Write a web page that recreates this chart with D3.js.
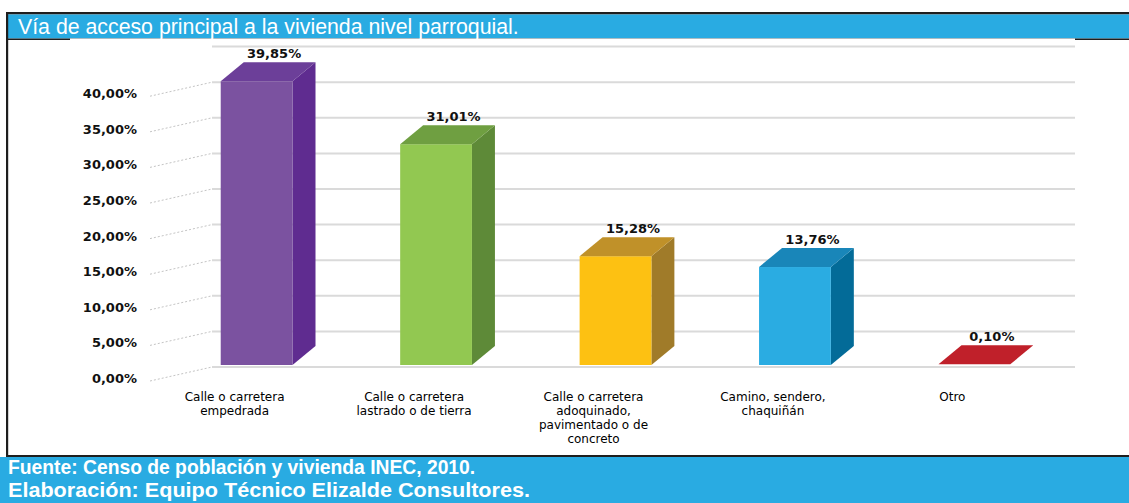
<!DOCTYPE html>
<html>
<head>
<meta charset="utf-8">
<script src="https://cdn.jsdelivr.net/npm/d3@7"></script>
<style>
  html, body { margin: 0; padding: 0; background: #ffffff; }
  svg { display: block; font-family: Arial, "Liberation Sans", sans-serif; }
  .dv { font-family: "DejaVu Sans", sans-serif; }
</style>
</head>
<body>
<svg id="chart" width="1129" height="503"></svg>
<script>
// Vía de acceso principal a la vivienda (porcentajes por categoría)
const categories = [
  ["Calle o carretera", "empedrada"],
  ["Calle o carretera", "lastrado o de tierra"],
  ["Calle o carretera", "adoquinado,", "pavimentado o de", "concreto"],
  ["Camino, sendero,", "chaquiñán"],
  ["Otro"]
];
const values = [39.85, 31.01, 15.28, 13.76, 0.10];
const valueLabels = ["39,85%", "31,01%", "15,28%", "13,76%", "0,10%"];
const tickValues = [0, 5, 10, 15, 20, 25, 30, 35, 40];
const tickLabels = ["0,00%", "5,00%", "10,00%", "15,00%", "20,00%", "25,00%", "30,00%", "35,00%", "40,00%"];
const gridValues = [0, 5, 10, 15, 20, 25, 30, 35, 40, 45];

const frontColors = ["#7b52a0", "#92c851", "#fdc112", "#2aace2", "#c0202a"];
const sideColors  = ["#5f2c90", "#5e8a38", "#a07b29", "#036b98", "#8e1520"];
const topColors   = ["#6c3f99", "#6f9f41", "#c09129", "#1986b9", "#c0202a"];

const svg = d3.select("#chart");
const W = 1129, H = 503;
const BLUE = "#29abe2";

// frame and header / footer bands
svg.append("rect").attr("x", 6).attr("y", 12).attr("width", W - 6).attr("height", 2.5).attr("fill", "#1e1e1e");
svg.append("rect").attr("x", 8).attr("y", 14.5).attr("width", W - 8).attr("height", 24).attr("fill", BLUE);
svg.append("rect").attr("x", 6).attr("y", 38.5).attr("width", W - 6).attr("height", 1.5).attr("fill", "#1e1e1e");
svg.append("rect").attr("x", 6).attr("y", 12).attr("width", 2.2).attr("height", 445).attr("fill", "#1e1e1e");
svg.append("rect").attr("x", 6).attr("y", 455).attr("width", W - 6).attr("height", 2).attr("fill", "#1e1e1e");
svg.append("rect").attr("x", 0).attr("y", 457).attr("width", W).attr("height", H - 457).attr("fill", BLUE);

svg.append("text").attr("x", 18).attr("y", 34)
  .attr("fill", "#ffffff").attr("font-size", 21.3)
  .text("Vía de acceso principal a la vivienda nivel parroquial.");

// embedded chart area
svg.append("rect").attr("x", 70).attr("y", 38.5).attr("width", 1005).attr("height", 416.5).attr("fill", "#ffffff");

const y = d3.scaleLinear().domain([0, 45]).range([365, 44.6]);
const x = d3.scaleBand().domain(d3.range(values.length)).range([131, 1100]).paddingInner(0.6).paddingOuter(0.5);

const DX = 23, DY = -19;      // bar depth projection
const wallX0 = 212, wallX1 = 1075, backOff = 2;

// back wall gridlines
const g = svg.append("g");
g.selectAll("line.grid").data(gridValues).join("line")
  .attr("class", "grid")
  .attr("x1", wallX0).attr("x2", wallX1)
  .attr("y1", d => y(d) + backOff).attr("y2", d => y(d) + backOff)
  .attr("stroke", "#dadada").attr("stroke-width", 2);

// side wall gridlines
g.selectAll("line.side").data(tickValues).join("line")
  .attr("class", "side")
  .attr("x1", 150).attr("y1", d => y(d) + 16)
  .attr("x2", wallX0).attr("y2", d => y(d) + backOff)
  .attr("stroke", "#c4c4c4").attr("stroke-width", 1)
  .attr("stroke-dasharray", "2,2");

// y tick labels
g.selectAll("text.tick").data(tickValues).join("text")
  .attr("class", "tick dv")
  .attr("x", 137).attr("y", d => y(d) + 18)
  .attr("text-anchor", "end")
  .attr("font-size", 13).attr("font-weight", "bold").attr("fill", "#111")
  .text((d, i) => tickLabels[i]);

// 3D bars
const bars = svg.append("g").selectAll("g.bar").data(values).join("g").attr("class", "bar");
bars.each(function (v, i) {
  const gg = d3.select(this);
  const x0 = x(i), x1 = x(i) + x.bandwidth();
  const yb = y(0), yt = y(v);
  if (yb - yt > 1) {
    gg.append("path")
      .attr("d", `M${x1},${yt} L${x1 + DX},${yt + DY} L${x1 + DX},${yb + DY} L${x1},${yb} Z`)
      .attr("fill", sideColors[i]);
    gg.append("rect")
      .attr("x", x0).attr("y", yt).attr("width", x.bandwidth()).attr("height", yb - yt)
      .attr("fill", frontColors[i]);
  }
  gg.append("path")
    .attr("d", `M${x0},${yt} L${x0 + DX},${yt + DY} L${x1 + DX},${yt + DY} L${x1},${yt} Z`)
    .attr("fill", topColors[i]);
});

// value labels
svg.append("g").selectAll("text").data(values).join("text")
  .attr("class", "dv")
  .attr("x", (d, i) => x(i) + x.bandwidth() / 2 + DX / 2 + 6)
  .attr("y", d => y(d) + DY - 4)
  .attr("text-anchor", "middle")
  .attr("font-size", 13).attr("font-weight", "bold").attr("fill", "#111")
  .text((d, i) => valueLabels[i]);

// category labels
const cat = svg.append("g").selectAll("text").data(categories).join("text")
  .attr("class", "dv")
  .attr("x", (d, i) => x(i) + x.bandwidth() / 2 - 22)
  .attr("y", 401)
  .attr("text-anchor", "middle")
  .attr("font-size", 12).attr("fill", "#000");
cat.each(function (lines) {
  const t = d3.select(this);
  const cx = t.attr("x");
  lines.forEach((ln, k) => {
    t.append("tspan").attr("x", cx).attr("dy", k === 0 ? 0 : 14).text(ln);
  });
});

// footer
svg.append("text").attr("x", 8).attr("y", 474)
  .attr("fill", "#ffffff").attr("font-size", 19.3).attr("font-weight", "bold")
  .text("Fuente: Censo de población y vivienda INEC, 2010.");
svg.append("text").attr("x", 8).attr("y", 497)
  .attr("fill", "#ffffff").attr("font-size", 19.3).attr("font-weight", "bold")
  .attr("textLength", 522).attr("lengthAdjust", "spacingAndGlyphs")
  .text("Elaboración: Equipo Técnico Elizalde Consultores.");
</script>
</body>
</html>
